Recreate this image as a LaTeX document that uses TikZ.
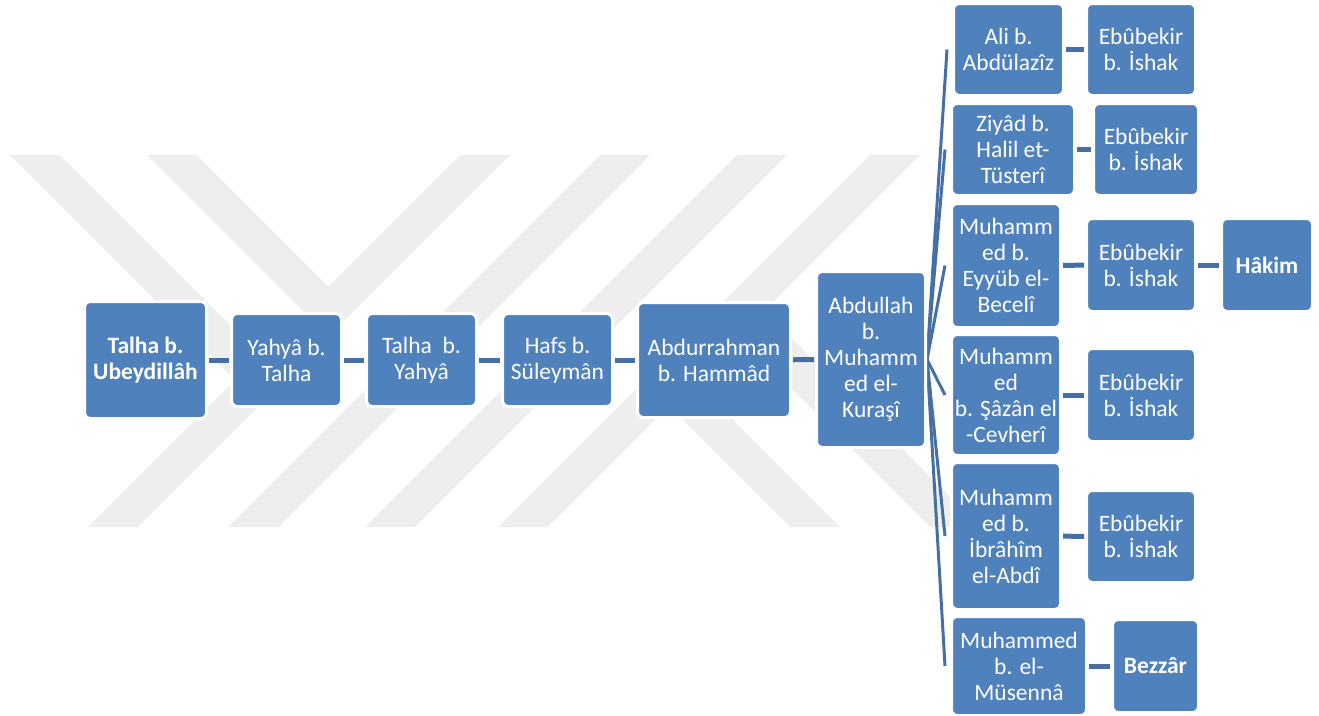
\documentclass[tikz,border=0pt]{standalone}
\usepackage{fontspec}
\setmainfont{Carlito}
\definecolor{boxblue}{HTML}{4F81BD}
\definecolor{linkblue}{HTML}{4670A5}
\definecolor{wm}{HTML}{EEEEEE}
\pgfdeclarelayer{background}
\pgfsetlayers{background,main}
\begin{document}
\begin{tikzpicture}[x=1pt,y=-1pt,
  box/.style={rectangle, rounded corners=6pt, fill=boxblue, draw=white, line width=3pt,
    text=white, align=center, font=\fontsize{23.5}{26}\selectfont, inner sep=0pt},
  link/.style={draw=linkblue, line width=5pt, shorten <=1pt, shorten >=1pt},
  fan/.style={draw=linkblue, line width=3pt},
  wmark/.style={fill=wm}]
\useasboundingbox (0,0) rectangle (1319,715);

% main chain
\node[box, minimum width=122pt, minimum height=117pt] (talha)  at (145.5,360) {\textbf{Talha b.}\\\textbf{Ubeydillâh}};
\node[box, minimum width=110pt, minimum height=93pt]  (yahya)  at (286.5,360) {Yahyâ b.\\Talha};
\node[box, minimum width=110pt, minimum height=93pt]  (talhay) at (421.5,360) {Talha\ \ b.\\Yahyâ};
\node[box, minimum width=110pt, minimum height=93pt]  (hafs)   at (557.5,360) {Hafs b.\\Süleymân};
\node[box, minimum width=153pt, minimum height=115pt] (abdur)  at (714,360)   {Abdurrahman\\b. Hammâd};
\node[box, minimum width=109pt, minimum height=176pt] (abd)    at (871,359.5) {Abdullah\\b.\\Muhamm\\ed el-\\Kuraşî};

% right column
\node[box, minimum width=110pt, minimum height=92pt]  (ali)   at (1008.5,49.5) {Ali b.\\Abdülazîz};
\node[box, minimum width=109pt, minimum height=92pt]  (ebu1)  at (1141,49.5)   {Ebûbekir\\b. İshak};
\node[box, minimum width=123pt, minimum height=92pt]  (ziyad) at (1013,149.5)  {Ziyâd b.\\Halil et-\\Tüsterî};
\node[box, minimum width=105pt, minimum height=92pt]  (ebu2)  at (1146,149.5)  {Ebûbekir\\b. İshak};
\node[box, minimum width=109pt, minimum height=124pt] (eyyub) at (1006,265.5)  {Muhamm\\ed b.\\Eyyüb el-\\Becelî};
\node[box, minimum width=109pt, minimum height=93pt]  (ebu3)  at (1141,265)    {Ebûbekir\\b. İshak};
\node[box, minimum width=91pt,  minimum height=93pt]  (hakim) at (1267,265)    {\textbf{Hâkim}};
\node[box, minimum width=109pt, minimum height=121pt] (sazan) at (1006,395)    {Muhamm\\ed\\b. Şâzân el\\-Cevherî};
\node[box, minimum width=109pt, minimum height=93pt]  (ebu4)  at (1141,395)    {Ebûbekir\\b. İshak};
\node[box, minimum width=109pt, minimum height=147pt] (ibrahim) at (1006,536)  {Muhamm\\ed b.\\İbrâhîm\\el-Abdî};
\node[box, minimum width=109pt, minimum height=92pt]  (ebu5)  at (1141,536.5)  {Ebûbekir\\b. İshak};
\node[box, minimum width=135pt, minimum height=99pt]  (musenna) at (1019,666)  {Muhammed\\b. el-\\Müsennâ};
\node[box, minimum width=86pt,  minimum height=93pt]  (bezzar) at (1155.5,666) {\textbf{Bezzâr}};

\begin{pgfonlayer}{background}
% watermark
\fill[wmark] (460,155) -- (510,155) -- (138,527) -- (88,527) -- cycle;
\fill[wmark] (600,155) -- (650,155) -- (278,527) -- (228,527) -- cycle;
\fill[wmark] (737,155) -- (787,155) -- (415,527) -- (365,527) -- cycle;
\fill[wmark] (870,155) -- (920,155) -- (548,527) -- (498,527) -- cycle;
\fill[wmark] (10,155) -- (60,155) -- (260,355) -- (260,405) -- cycle;
\fill[wmark] (147,155) -- (197,155) -- (328.5,286.5) -- (328.5,336.5) -- cycle;
\fill[wmark] (790,527) -- (840,527) -- (669,356) -- (669,406) -- cycle;
\fill[wmark] (930,527) -- (980,527) -- (739,286) -- (739,336) -- cycle;
% connectors
\draw[link] (talha) -- (yahya);
\draw[link] (yahya) -- (talhay);
\draw[link] (talhay) -- (hafs);
\draw[link] (hafs) -- (abdur);
\draw[link] (abdur) -- (abd);
\draw[fan] (abd.east) -- ([xshift=-5pt]ali.west);
\draw[fan] (abd.east) -- ([xshift=-5pt]ziyad.west);
\draw[fan] (abd.east) -- ([xshift=-5pt]eyyub.west);
\draw[fan] (abd.east) -- ([xshift=-5pt]sazan.west);
\draw[fan] (abd.east) -- ([xshift=-5pt]ibrahim.west);
\draw[fan] (abd.east) -- ([xshift=-5pt]musenna.west);
\draw[link] (ali) -- (ebu1);
\draw[link] (ziyad) -- (ebu2);
\draw[link] (eyyub) -- (ebu3);
\draw[link] (ebu3) -- (hakim);
\draw[link] (sazan) -- (ebu4);
\draw[link] (ibrahim) -- (ebu5);
\draw[link] (musenna) -- (bezzar);
\end{pgfonlayer}
\end{tikzpicture}
\end{document}
